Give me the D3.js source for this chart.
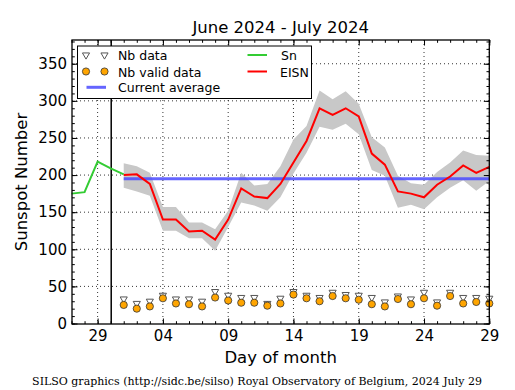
<!DOCTYPE html>
<html lang="en">
<head>
    <meta charset="UTF-8">
    <title>SILSO daily sunspot number</title>
    <script src="https://d3js.org/d3.v7.min.js" charset="utf-8"></script>
    <style>
        body{margin:0;background:#fff;}
        text{font-family:"DejaVu Sans",sans-serif;fill:#000;}
    </style>
</head>
<body>
    <svg></svg>
    <script>
        //provisional Sn, end of June
        var snDays = ["2024-06-27","2024-06-28","2024-06-29","2024-06-30","2024-07-01"];
        var snValues = [175, 177, 218, 209, 201];

        //EISN for July, with its error band
        var eisnDays = [1,2,3,4,5,6,7,8,9,10,11,12,13,14,15,16,17,18,19,20,21,22,23,24,25,26,27,28,29];
        var eisnValues = [200,201,188,140,140,124,125,113,140,182,171,169,188,217,246,290,281,290,279,229,214,178,175,170,187,198,213,203,211];
        var eisnLow  = [183,178,172,125,125,115,115,98,130,163,159,152,170,202,230,265,261,269,255,207,199,156,160,154,170,183,193,179,192];
        var eisnHigh = [216,212,203,157,157,136,136,127,152,203,186,188,212,248,266,314,302,313,296,251,237,199,189,187,204,217,233,227,226];

        //number of stations
        var nbData  = [33,27,30,38,33,33,30,43,38,35,35,27,34,43,38,35,42,39,38,35,29,37,33,42,29,42,35,35,34];
        var nbValid = [25,20,23,34,27,26,23,35,31,28,28,24,27,39,34,30,37,34,32,26,23,33,26,34,24,37,27,29,27];

        var currentAverage = 195;
        var averageFrom = "2024-07-01", averageTo = "2024-07-29";
        var monthStart = "2024-06-30T01:00";

        var yMajor = [0,50,100,150,200,250,300,350];
        var xMajor = ["2024-06-29","2024-07-04","2024-07-09","2024-07-14","2024-07-19","2024-07-24","2024-07-29"];

        var W = 515, H = 390;
        var pL = 72, pR = 489.3, pT = 40, pB = 324;

        var svg = d3.select("svg").attr("width",W).attr("height",H);

        function day(s){ return new Date(s.length>10 ? s+":00Z" : s+"T00:00:00Z"); }
        function july(d){ return new Date(Date.UTC(2024,6,d)); }

        var x = d3.scaleUtc()
            .domain([day("2024-06-27"), day("2024-07-29")])
            .range([71.5, pR]);
        var y = d3.scaleLinear()
            .domain([0, 382])
            .range([323.5, pT]);

        //dotted grid
        var grid = svg.append("g");
        grid.selectAll("line.gx")
            .data(xMajor)
            .enter()
            .append("line")
            .attr("x1",function(d){return x(day(d))})
            .attr("x2",function(d){return x(day(d))})
            .attr("y1",pT).attr("y2",pB)
            .attr("stroke","#000").attr("stroke-width",0.8)
            .attr("stroke-dasharray","1,3");
        grid.selectAll("line.gy")
            .data(yMajor.slice(1))
            .enter()
            .append("line")
            .attr("x1",pL).attr("x2",pR)
            .attr("y1",function(d){return y(d)})
            .attr("y2",function(d){return y(d)})
            .attr("stroke","#000").attr("stroke-width",0.8)
            .attr("stroke-dasharray","1,3");

        var plot = svg.append("g");

        //grey error band
        var band = d3.area()
            .x(function(d,i){return x(july(eisnDays[i]))})
            .y0(function(d,i){return y(eisnLow[i])})
            .y1(function(d,i){return y(eisnHigh[i])});
        plot.append("path")
            .datum(eisnDays)
            .attr("d",band)
            .attr("fill","#c8c8c8");

        //month separator
        plot.append("line")
            .attr("x1",x(day(monthStart))).attr("x2",x(day(monthStart)))
            .attr("y1",pT).attr("y2",pB)
            .attr("stroke","#000").attr("stroke-width",1.5);

        //current average
        plot.append("line")
            .attr("x1",x(day(averageFrom))).attr("x2",x(day(averageTo)))
            .attr("y1",y(currentAverage)).attr("y2",y(currentAverage))
            .attr("stroke","#4a4aff").attr("stroke-opacity",0.85).attr("stroke-width",3);

        //Sn line
        var snLine = d3.line()
            .x(function(d){return x(day(d))})
            .y(function(d,i){return y(snValues[i])});
        plot.append("path")
            .datum(snDays)
            .attr("d",snLine)
            .attr("fill","none")
            .attr("stroke","#33cc33").attr("stroke-width",2);

        //EISN line
        var eisnLine = d3.line()
            .x(function(d){return x(july(d))})
            .y(function(d,i){return y(eisnValues[i])});
        plot.append("path")
            .datum(eisnDays)
            .attr("d",eisnLine)
            .attr("fill","none")
            .attr("stroke","#ff0000").attr("stroke-width",2);

        //station counts
        var tri = d3.symbol().type(d3.symbolTriangle).size(22);
        plot.selectAll("path.nb")
            .data(eisnDays)
            .enter()
            .append("path")
            .attr("d",tri)
            .attr("transform",function(d,i){return "translate("+x(july(d))+","+y(nbData[i])+") rotate(180)"})
            .attr("fill","#fff").attr("stroke","#555").attr("stroke-width",1);
        plot.selectAll("circle.nbv")
            .data(eisnDays)
            .enter()
            .append("circle")
            .attr("cx",function(d){return x(july(d))})
            .attr("cy",function(d,i){return y(nbValid[i])})
            .attr("r",3.6)
            .attr("fill","#ffa500").attr("stroke","#333").attr("stroke-width",0.8);

        //ticks, pointing inward, on all four sides
        var minorX = d3.utcDay.range(day("2024-06-27"), day("2024-07-30"));
        var minorY = d3.range(0, 381, 10);
        function tickGroup(axis, tx, ty){
            var g = svg.append("g").attr("transform","translate("+tx+","+ty+")").call(axis);
            g.select(".domain").remove();
            g.selectAll("line").attr("stroke","#000").attr("stroke-width",1);
            return g;
        }
        tickGroup(d3.axisBottom(x).tickValues(minorX).tickSize(-2.8).tickFormat(""), 0, pB);
        tickGroup(d3.axisTop(x).tickValues(minorX).tickSize(-2.8).tickFormat(""), 0, pT);
        tickGroup(d3.axisTop(x).tickValues(xMajor.map(day)).tickSize(-5.5).tickFormat(""), 0, pT);
        tickGroup(d3.axisLeft(y).tickValues(minorY).tickSize(-2.8).tickFormat(""), pL, 0);
        tickGroup(d3.axisRight(y).tickValues(minorY).tickSize(-2.8).tickFormat(""), pR, 0);
        tickGroup(d3.axisRight(y).tickValues(yMajor).tickSize(-5.5).tickFormat(""), pR, 0);

        var xAxis = tickGroup(d3.axisBottom(x).tickValues(xMajor.map(day)).tickSize(-5.5)
            .tickFormat(d3.utcFormat("%d")), 0, pB);
        xAxis.selectAll("text").attr("font-size",15).attr("font-family","DejaVu Sans").attr("dy","0.71em").attr("y",6);
        var yAxis = tickGroup(d3.axisLeft(y).tickValues(yMajor).tickSize(-5.5), pL, 0);
        yAxis.selectAll("text").attr("font-size",15).attr("font-family","DejaVu Sans").attr("x",-5);

        //frame
        svg.append("rect")
            .attr("x",pL).attr("y",pT)
            .attr("width",pR-pL).attr("height",pB-pT)
            .attr("fill","none").attr("stroke","#000").attr("stroke-width",1.3);

        //titles
        svg.append("text")
            .attr("x",(pL+pR)/2).attr("y",33)
            .attr("text-anchor","middle").attr("font-size",16.5)
            .text("June 2024 - July 2024");
        svg.append("text")
            .attr("x",(pL+pR)/2).attr("y",363)
            .attr("text-anchor","middle").attr("font-size",16.5)
            .text("Day of month");
        svg.append("text")
            .attr("transform","translate(27,"+((pT+pB)/2)+") rotate(-90)")
            .attr("text-anchor","middle").attr("font-size",16.5)
            .text("Sunspot Number");
        svg.append("text")
            .attr("x",257).attr("y",385)
            .attr("text-anchor","middle").attr("font-size",11)
            .style("font-family","'DejaVu Serif',serif")
            .text("SILSO graphics (http://sidc.be/silso) Royal Observatory of Belgium, 2024 July 29");

        //legend
        var lg = svg.append("g");
        lg.append("rect")
            .attr("x",77.5).attr("y",46)
            .attr("width",234).attr("height",52.5)
            .attr("fill","#fff").attr("stroke","#000").attr("stroke-width",1);
        [86,104.5].forEach(function(px){
            lg.append("path").attr("d",tri)
                .attr("transform","translate("+px+",55) rotate(180)")
                .attr("fill","#fff").attr("stroke","#555").attr("stroke-width",1);
            lg.append("circle").attr("cx",px).attr("cy",71.5).attr("r",3.6)
                .attr("fill","#ffa500").attr("stroke","#333").attr("stroke-width",0.8);
        });
        lg.append("line").attr("x1",86.5).attr("x2",106).attr("y1",87.3).attr("y2",87.3)
            .attr("stroke","#4a4aff").attr("stroke-opacity",0.85).attr("stroke-width",3);
        lg.append("line").attr("x1",247.5).attr("x2",267).attr("y1",55).attr("y2",55)
            .attr("stroke","#33cc33").attr("stroke-width",2);
        lg.append("line").attr("x1",247.5).attr("x2",267).attr("y1",71.5).attr("y2",71.5)
            .attr("stroke","#ff0000").attr("stroke-width",2);
        var legendText = [["Nb data",118,60],["Nb valid data",118,76.5],["Current average",118,92],["Sn",281,60],["EISN",280,76.5]];
        lg.selectAll("text.lt")
            .data(legendText)
            .enter()
            .append("text")
            .attr("x",function(d){return d[1]})
            .attr("y",function(d){return d[2]})
            .attr("font-size",12.5)
            .text(function(d){return d[0]});
    </script>
</body>
</html>
